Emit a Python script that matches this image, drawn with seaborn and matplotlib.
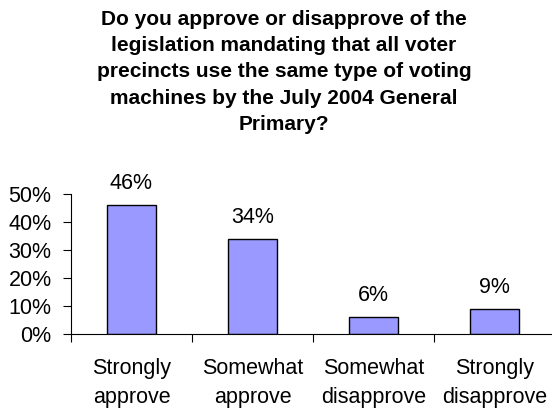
import matplotlib
matplotlib.use("Agg")
import matplotlib.pyplot as plt
import seaborn as sns
import pandas as pd

categories = ["Strongly\napprove", "Somewhat\napprove", "Somewhat\ndisapprove", "Strongly\ndisapprove"]
shares = [0.46, 0.34, 0.06, 0.09]
value_labels = ["46%", "34%", "6%", "9%"]
y_ticks = [0.0, 0.1, 0.2, 0.3, 0.4, 0.5]
y_tick_labels = ["0%", "10%", "20%", "30%", "40%", "50%"]
title = ("Do you approve or disapprove of the\nlegislation mandating that all voter\n"
         "precincts use the same type of voting\nmachines by the July 2004 General\nPrimary?")

sns.set_theme(style="white")
plt.rcParams["font.family"] = ["Liberation Sans", "DejaVu Sans"]
plt.rcParams["text.color"] = "black"
plt.rcParams["xtick.color"] = "black"
plt.rcParams["ytick.color"] = "black"

df = pd.DataFrame({"category": categories, "share": shares})

fig = plt.figure(figsize=(5.52, 4.08), dpi=100)
ax = fig.add_axes([71 / 552, 74 / 408, 484 / 552, 140 / 408])

sns.barplot(data=df, x="category", y="share", color="#9999FF", width=0.4,
            edgecolor="black", linewidth=1.0, saturation=1, ax=ax)

for i, (v, lab) in enumerate(zip(shares, value_labels)):
    ax.annotate(lab, (i, v), xytext=(0, 8), textcoords="offset points",
                ha="center", va="bottom", fontsize=15.5, color="black")

ax.set_xlim(-0.5, 3.5)
ax.set_ylim(0, 0.5)
ax.set_yticks(y_ticks)
ax.set_yticklabels(y_tick_labels, fontsize=15.5, color="black")
ax.set_xlabel("")
ax.set_ylabel("")
ax.set_xticks([-0.5, 0.5, 1.5, 2.5, 3.5], minor=False)
ax.set_xticklabels([""] * 5)
ax.set_xticks([0, 1, 2, 3], minor=True)
ax.set_xticklabels(categories, minor=True, fontsize=15.5, linespacing=1.5, color="black")
ax.tick_params(axis="x", which="major", length=6, width=0.8, color="black", direction="out", bottom=True)
ax.tick_params(axis="x", which="minor", length=0, pad=17)
ax.tick_params(axis="y", length=6, width=0.8, color="black", direction="out", left=True, pad=8)

for side in ["top", "right"]:
    ax.spines[side].set_visible(False)
for side in ["left", "bottom"]:
    ax.spines[side].set_color("black")
    ax.spines[side].set_linewidth(0.8)

fig.text(284 / 552, 1 - 10 / 408, title, ha="center", va="top", fontsize=15,
         fontweight="bold", linespacing=1.48, color="black")

fig.savefig("out.png", dpi=100, facecolor="white")
